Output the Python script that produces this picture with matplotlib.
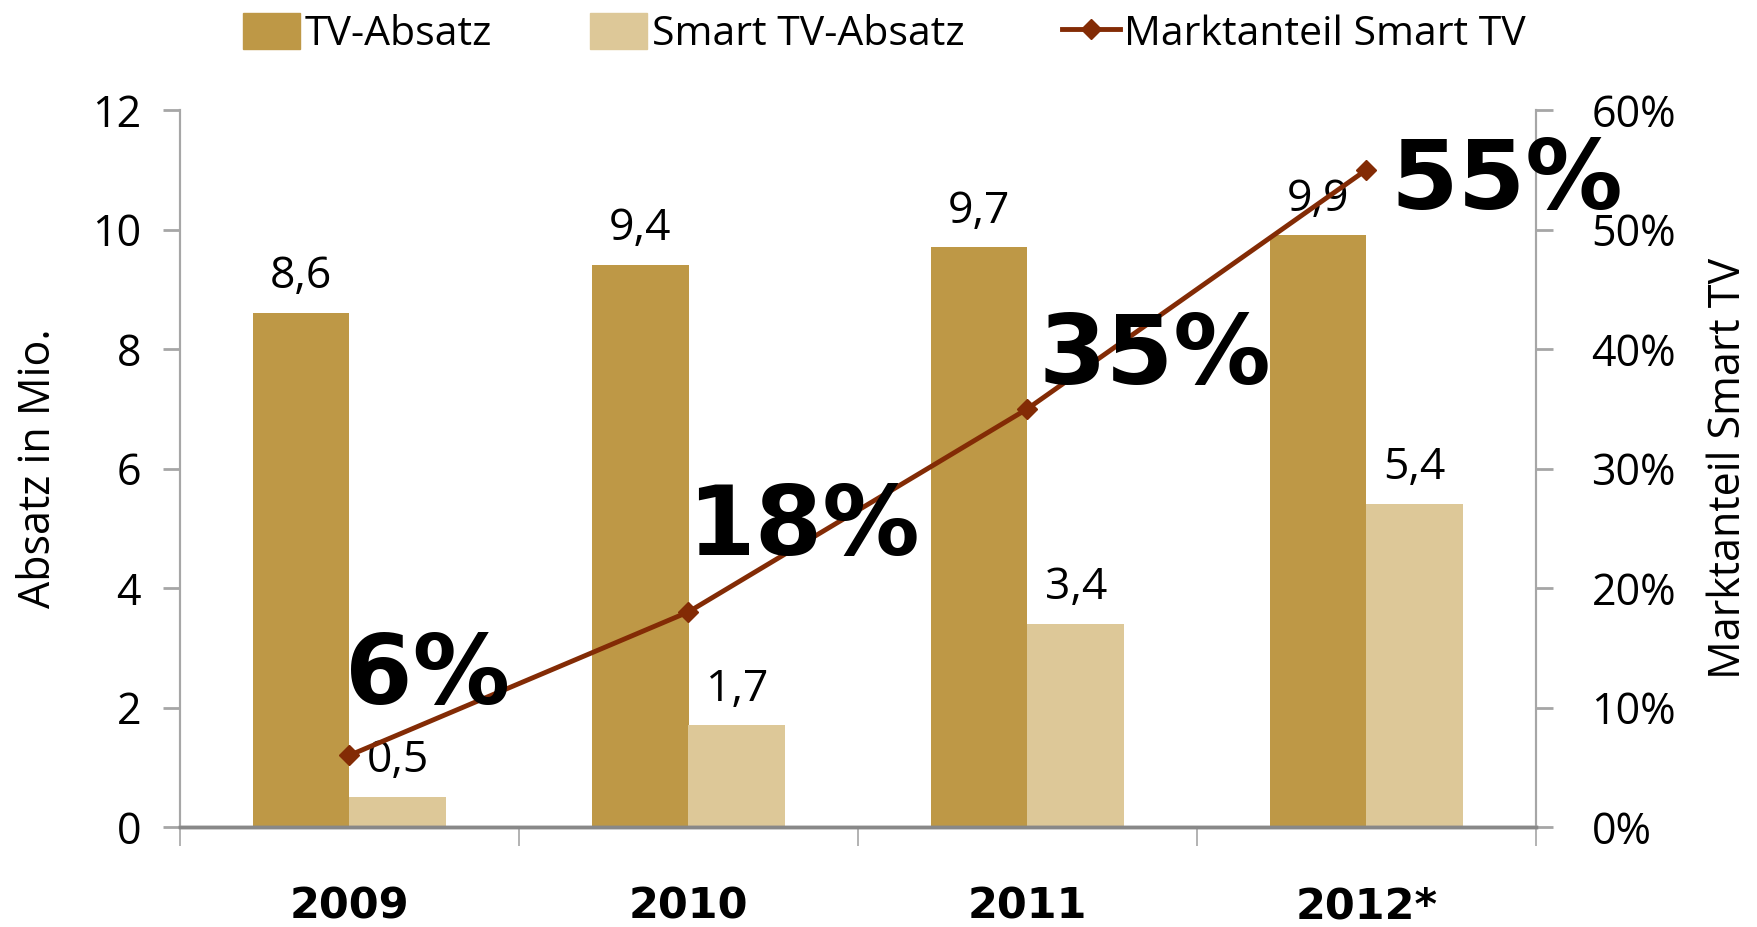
import matplotlib
matplotlib.use("Agg")
import matplotlib.pyplot as plt
from matplotlib.patches import Patch
from matplotlib.lines import Line2D

years = ["2009", "2010", "2011", "2012*"]
tv_sales = [8.6, 9.4, 9.7, 9.9]
smart_sales = [0.5, 1.7, 3.4, 5.4]
smart_share = [0.06, 0.18, 0.35, 0.55]
share_labels = ["6%", "18%", "35%", "55%"]
tv_labels = ["8,6", "9,4", "9,7", "9,9"]
smart_labels = ["0,5", "1,7", "3,4", "5,4"]

C_TV = "#BE9846"
C_SMART = "#DDC898"
C_LINE = "#832B05"
GRAY = "#A6A6A6"
REG = "Open Sans"

fig = plt.figure(figsize=(17.58, 9.27), dpi=100)
ax = fig.add_axes([180/1758, 100/927, (1536-180)/1758, (827-110)/927])
ax2 = ax.twinx()

x = list(range(len(years)))
w = 0.285
ax.bar([i - w/2 for i in x], tv_sales, width=w, color=C_TV, zorder=2)
ax.bar([i + w/2 for i in x], smart_sales, width=w, color=C_SMART, zorder=2)

for i in x:
    ax.annotate(tv_labels[i], (i - w/2, tv_sales[i]), xytext=(0, 26), textcoords="offset points",
                ha="center", va="center", fontsize=32, family=REG)
    ax.annotate(smart_labels[i], (i + w/2, smart_sales[i]), xytext=(0, 26), textcoords="offset points",
                ha="center", va="center", fontsize=32, family=REG)

ax2.plot(x, smart_share, color=C_LINE, lw=3.5, marker="D", ms=10, zorder=5)
offsets = [(-3, 56), (-1, 60), (8, 37), (17, -9)]
for i in x:
    ax2.annotate(share_labels[i], (i, smart_share[i]), xytext=offsets[i], textcoords="offset points",
                 ha="left", va="center", fontsize=70, fontweight="bold", family="DejaVu Sans", zorder=6)

ax.set_xlim(-0.5, 3.5)
ax.set_ylim(0, 12)
ax2.set_ylim(0, 0.6)
ax.set_yticks(range(0, 13, 2))
ax2.set_yticks([0, 0.1, 0.2, 0.3, 0.4, 0.5, 0.6])
ax2.set_yticklabels([f"{int(v*100)}%" for v in [0, 0.1, 0.2, 0.3, 0.4, 0.5, 0.6]])

ax.set_xticks([-0.5, 0.5, 1.5, 2.5, 3.5])
ax.set_xticklabels([])
ax.set_xticks(x, minor=True)
ax.set_xticklabels(years, minor=True, fontsize=31, fontweight="bold", family="DejaVu Sans")
ax.tick_params(axis="x", which="minor", length=0, pad=42)
ax.tick_params(axis="x", which="major", length=14, color=GRAY, width=1.2)

for a in (ax, ax2):
    a.spines["top"].set_visible(False)
    a.spines["left"].set_color(GRAY)
    a.spines["right"].set_color(GRAY)
    a.spines["bottom"].set_color("#888888")
    a.spines["bottom"].set_linewidth(2.5)
    a.spines["left"].set_linewidth(1.5)
    a.spines["right"].set_linewidth(1.5)

ax.tick_params(axis="y", length=12, color=GRAY, width=2, labelsize=31, pad=16)
ax2.tick_params(axis="y", length=12, color=GRAY, width=2, labelsize=31, pad=28)
for lbl in ax.get_yticklabels() + ax2.get_yticklabels():
    lbl.set_family(REG)

ax.set_ylabel("Absatz in Mio.", fontsize=31, family=REG, labelpad=22)
ax2.set_ylabel("Marktanteil Smart TV", fontsize=31, family=REG, labelpad=22)

handles = [Patch(color=C_TV), Patch(color=C_SMART),
           Line2D([0], [0], color=C_LINE, lw=3.5, marker="D", ms=10)]
fig.legend(handles, ["TV-Absatz", "Smart TV-Absatz", "Marktanteil Smart TV"],
           loc="upper center", bbox_to_anchor=(0.503, 1.026), ncol=3, frameon=False,
           prop={"family": REG, "size": 29.5}, handlelength=1.4, handletextpad=0.1,
           columnspacing=2.4, handleheight=1.0)

fig.savefig("out.png", dpi=100)
